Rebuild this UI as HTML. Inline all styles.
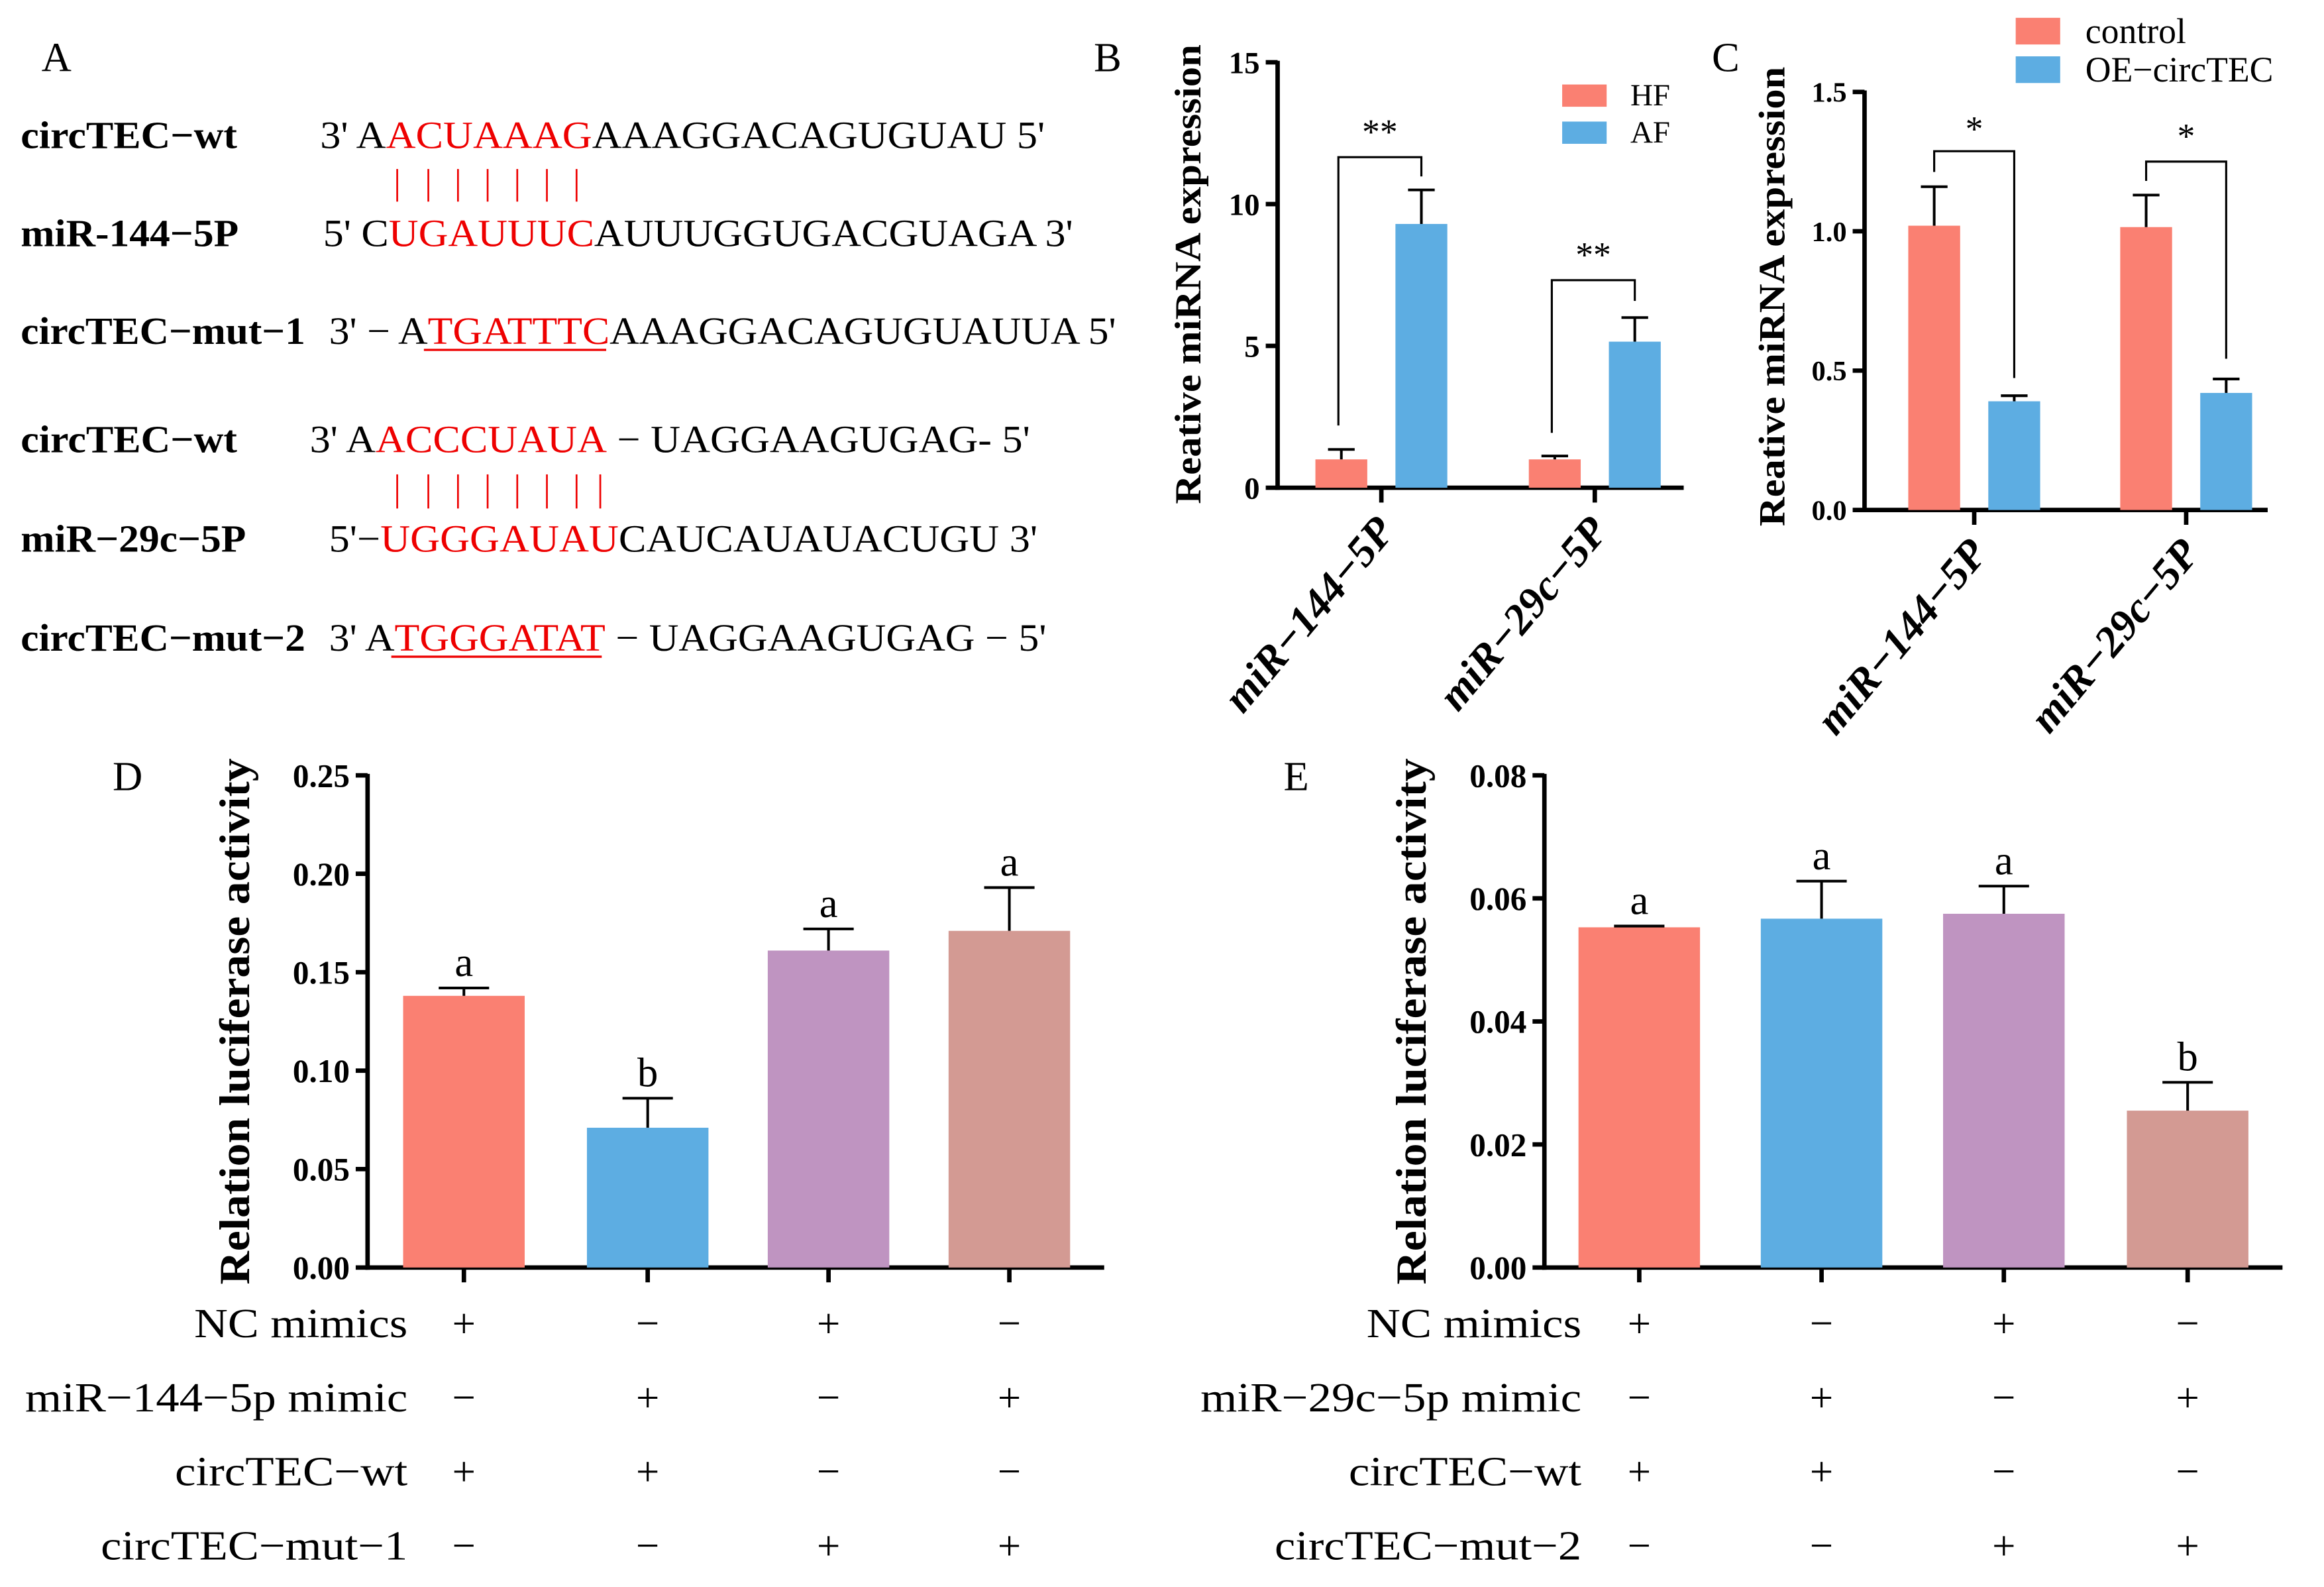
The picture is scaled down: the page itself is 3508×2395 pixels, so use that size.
<!DOCTYPE html>
<html><head><meta charset="utf-8"><style>
html,body{margin:0;padding:0;background:#fff}
svg{display:block}
text{font-family:"Liberation Serif",serif}
</style></head><body>
<svg id="fig" width="3508" height="2395" viewBox="0 0 1568 1070.5" xmlns="http://www.w3.org/2000/svg">
<rect width="1568" height="1071" fill="#fff"/>
<g id="panelA" font-size="26">
<text x="28" y="48" font-size="28">A</text>
<text x="14" y="100" font-weight="bold" textLength="146" lengthAdjust="spacingAndGlyphs">circTEC−wt</text>
<text x="216" y="100" textLength="489" lengthAdjust="spacingAndGlyphs">3' A<tspan fill="#e00">ACUAAAG</tspan>AAAGGACAGUGUAU 5'</text>
<g stroke="#e00" stroke-width="1.2">
<line x1="268" y1="114" x2="268" y2="136"/><line x1="289" y1="114" x2="289" y2="136"/><line x1="309" y1="114" x2="309" y2="136"/><line x1="329" y1="114" x2="329" y2="136"/><line x1="349" y1="114" x2="349" y2="136"/><line x1="369" y1="114" x2="369" y2="136"/><line x1="389" y1="114" x2="389" y2="136"/></g>
<text x="14" y="166" font-weight="bold" textLength="147" lengthAdjust="spacingAndGlyphs">miR-144−5P</text>
<text x="218" y="166" textLength="506" lengthAdjust="spacingAndGlyphs">5' C<tspan fill="#e00">UGAUUUC</tspan>AUUUGGUGACGUAGA 3'</text>
<text x="14" y="232" font-weight="bold" textLength="192" lengthAdjust="spacingAndGlyphs">circTEC−mut−1</text>
<text x="222" y="232" textLength="531" lengthAdjust="spacingAndGlyphs">3' − A<tspan fill="#e00">TGATTTC</tspan>AAAGGACAGUGUAUUA 5'</text>
<line x1="286" y1="236" x2="409" y2="236" stroke="#e00" stroke-width="1.5"/>
<text x="14" y="305" font-weight="bold" textLength="146" lengthAdjust="spacingAndGlyphs">circTEC−wt</text>
<text x="209" y="305" textLength="486" lengthAdjust="spacingAndGlyphs">3' A<tspan fill="#e00">ACCCUAUA</tspan> − UAGGAAGUGAG- 5'</text>
<g stroke="#e00" stroke-width="1.2">
<line x1="268" y1="320" x2="268" y2="343"/><line x1="289" y1="320" x2="289" y2="343"/><line x1="309" y1="320" x2="309" y2="343"/><line x1="329" y1="320" x2="329" y2="343"/><line x1="349" y1="320" x2="349" y2="343"/><line x1="369" y1="320" x2="369" y2="343"/><line x1="389" y1="320" x2="389" y2="343"/><line x1="405" y1="320" x2="405" y2="343"/></g>
<text x="14" y="372" font-weight="bold" textLength="152" lengthAdjust="spacingAndGlyphs">miR−29c−5P</text>
<text x="222" y="372" textLength="478" lengthAdjust="spacingAndGlyphs">5'−<tspan fill="#e00">UGGGAUAU</tspan>CAUCAUAUACUGU 3'</text>
<text x="14" y="439" font-weight="bold" textLength="192" lengthAdjust="spacingAndGlyphs">circTEC−mut−2</text>
<text x="222" y="439" textLength="484" lengthAdjust="spacingAndGlyphs">3' A<tspan fill="#e00">TGGGATAT</tspan> − UAGGAAGUGAG − 5'</text>
<line x1="264" y1="443" x2="406" y2="443" stroke="#e00" stroke-width="1.5"/>
</g>
<g id="charts"></g>
</svg>
<script>
// Panel B data
const bCategories = ["miR−144−5P", "miR−29c−5P"];
const bSeries = ["HF", "AF"];
const bHF = [1.0, 1.0];
const bHFErr = [0.35, 0.12];
const bAF = [9.3, 5.15];
const bAFErr = [1.2, 0.85];
const bTicks = [0, 5, 10, 15];
const bSig = ["**", "**"];
// Panel C data
const cCategories = ["miR−144−5P", "miR−29c−5P"];
const cSeries = ["control", "OE−circTEC"];
const cControl = [1.02, 1.015];
const cControlErr = [0.14, 0.115];
const cOE = [0.39, 0.42];
const cOEErr = [0.02, 0.05];
const cTicks = [0.0, 0.5, 1.0, 1.5];
const cSig = ["*", "*"];
// Panel D data
const dValues = [0.138, 0.071, 0.161, 0.171];
const dErr = [0.004, 0.015, 0.011, 0.022];
const dLetters = ["a", "b", "a", "a"];
const dTicks = [0.00, 0.05, 0.10, 0.15, 0.20, 0.25];
const dRowLabels = ["NC mimics", "miR−144−5p mimic", "circTEC−wt", "circTEC−mut−1"];
const dSigns = [["+","−","+","−"],["−","+","−","+"],["+","+","−","−"],["−","−","+","+"]];
// Panel E data
const eValues = [0.0553, 0.0567, 0.0575, 0.0255];
const eErr = [0.0002, 0.0061, 0.0045, 0.0046];
const eLetters = ["a", "a", "a", "b"];
const eTicks = [0.00, 0.02, 0.04, 0.06, 0.08];
const eRowLabels = ["NC mimics", "miR−29c−5p mimic", "circTEC−wt", "circTEC−mut−2"];
const eSigns = [["+","−","+","−"],["−","+","−","+"],["+","+","−","−"],["−","−","+","+"]];

const RED = "#FA8072", BLUE = "#5DADE2", PURP = "#BF94C1", ROSE = "#D39A93";
const NS = "http://www.w3.org/2000/svg";
const root = document.getElementById("charts");
function mk(tag, attrs, parent, txt) {
  const e = document.createElementNS(NS, tag);
  for (const k in attrs) e.setAttribute(k, attrs[k]);
  if (txt !== undefined) e.textContent = txt;
  (parent || root).appendChild(e);
  return e;
}
function scaleY(v, max, y0, y1) { return y0 - (v / max) * (y0 - y1); }

function axes(g, ax, y0, y1, xEnd, ticks, max, fmt, fs, tickXs) {
  const ya = mk("line", {x1: ax, y1: y1 - 1, x2: ax, y2: y0 + 1.5, stroke: "#000", "stroke-width": 3}, g);
  
  
  const xa = mk("line", {x1: ax - 1.5, y1: y0, x2: xEnd, y2: y0, stroke: "#000", "stroke-width": 3}, g);
  
  
  ticks.forEach(t => {
    const y = scaleY(t, max, y0, y1);
    mk("line", {x1: ax - 8, y1: y, x2: ax, y2: y, stroke: "#000", "stroke-width": 3}, g);
    const tl = mk("text", {x: ax - 12, y: y + fs * 0.35, "text-anchor": "end", "font-weight": "bold", "font-size": fs}, g, fmt(t));
    
    
  });
  tickXs.forEach(x => mk("line", {x1: x, y1: y0, x2: x, y2: y0 + 10, stroke: "#000", "stroke-width": 3}, g));
}
function bar(g, x, w, v, err, max, y0, y1, fill, name, cap) {
  const yt = scaleY(v, max, y0, y1);
  const r = mk("rect", {x: x - w / 2, y: yt, width: w, height: y0 - yt, fill: fill}, g);
  
  
  const ye = scaleY(v + err, max, y0, y1);
  mk("line", {x1: x, y1: yt, x2: x, y2: ye, stroke: "#000", "stroke-width": 1.8}, g);
  mk("line", {x1: x - cap, y1: ye, x2: x + cap, y2: ye, stroke: "#000", "stroke-width": 1.8}, g);
  return ye;
}
function bracket(g, xl, xr, yl, yr, top, star, sy) {
  mk("polyline", {points: `${xl},${yl} ${xl},${top} ${xr},${top} ${xr},${yr}`, fill: "none", stroke: "#000", "stroke-width": 1.4}, g);
  const s = mk("text", {x: (xl + xr) / 2, y: sy, "text-anchor": "middle", "font-size": 24}, g, star);
  
  
}
function ytitle(g, x, yc, txt, fs, len) {
  const t = mk("text", {x: 0, y: 0, transform: `translate(${x},${yc}) rotate(-90)`, "text-anchor": "middle", "font-weight": "bold", "font-size": fs, textLength: len, lengthAdjust: "spacingAndGlyphs"}, g, txt);
  
  
}
function xcat(g, x, y, txt) {
  const t = mk("text", {x: 0, y: 0, transform: `translate(${x},${y}) rotate(-50)`, "text-anchor": "end", "font-weight": "bold", "font-style": "italic", "font-size": 29}, g, txt);
  
  
}

// ---------- Panel B ----------
(function () {
  const g = mk("g", {});  
  const lb = mk("text", {x: 738, y: 48, "font-size": 28}, g, "B");
   
  const ax = 862, y0 = 329, y1 = 42, max = 15, centers = [932, 1076], off = 27, w = 35;
  axes(g, ax, y0, y1, 1136, bTicks, max, t => String(t), 21, centers);
  ytitle(g, 810, 185, "Reative miRNA expression", 25, 310);
  const lb_ = [287, 292], tp = [106, 189], rb = [119, 203], sy = [97, 180];
  bCategories.forEach((c, i) => {
    bar(g, centers[i] - off, w, bHF[i], bHFErr[i], max, y0, y1, RED, "bar-hf-" + i, 9);
    bar(g, centers[i] + off, w, bAF[i], bAFErr[i], max, y0, y1, BLUE, "bar-af-" + i, 9);
    bracket(g, centers[i] - off - 2, centers[i] + off, lb_[i], rb[i], tp[i], bSig[i], sy[i]);
    xcat(g, centers[i] + 10, y0 + 30, c);
  });
  const cols = [RED, BLUE];
  bSeries.forEach((s, i) => {
    const r = mk("rect", {x: 1054, y: 57 + i * 25, width: 30, height: 15, fill: cols[i]}, g);
     
    const t = mk("text", {x: 1100, y: 71 + i * 25, "font-size": 21}, g, s);
     
  });
})();

// ---------- Panel C ----------
(function () {
  const g = mk("g", {});  
  const lc = mk("text", {x: 1155, y: 48, "font-size": 28}, g, "C");
   
  const ax = 1258, y0 = 344, y1 = 62, max = 1.5, centers = [1332, 1475], off = 27, w = 35;
  axes(g, ax, y0, y1, 1530, cTicks, max, t => t.toFixed(1), 19, centers);
  ytitle(g, 1204, 200, "Reative miRNA expression", 25, 310);
  const lefts = [116, 122], rights = [255, 242], tops = [102, 109], sy = [95, 100];
  cCategories.forEach((c, i) => {
    bar(g, centers[i] - off, w, cControl[i], cControlErr[i], max, y0, y1, RED, "bar-control-" + i, 9);
    bar(g, centers[i] + off, w, cOE[i], cOEErr[i], max, y0, y1, BLUE, "bar-oe-" + i, 9);
    bracket(g, centers[i] - off, centers[i] + off, lefts[i], rights[i], tops[i], cSig[i], sy[i]);
    xcat(g, centers[i] + 10, y0 + 30, c);
  });
  const cols = [RED, BLUE];
  cSeries.forEach((s, i) => {
    const r = mk("rect", {x: 1360, y: 12 + i * 26, width: 30, height: 18, fill: cols[i]}, g);
     
    const t = mk("text", {x: 1407, y: 29 + i * 26, "font-size": 24}, g, s);
     
  });
})();

// ---------- Panels D & E ----------
function lucPanel(label, lx, ax, xEnd, centers, vals, errs, letters, ticks, max, dec, rowLabels, signs, labelRight, lens, name) {
  const g = mk("g", {});  
  const l = mk("text", {x: lx, y: 533, "font-size": 28}, g, label);
   
  const y0 = 855, y1 = 523, w = 82;
  axes(g, ax, y0, y1, xEnd, ticks, max, t => t.toFixed(dec), 22, centers);
  ytitle(g, ax - 80, 689, "Relation luciferase activity", 29, 355);
  const cols = [RED, BLUE, PURP, ROSE];
  vals.forEach((v, i) => {
    const ye = bar(g, centers[i], w, v, errs[i], max, y0, y1, cols[i], "bar-group-" + (i + 1), 17);
    const t = mk("text", {x: centers[i], y: ye - 8, "text-anchor": "middle", "font-size": 28}, g, letters[i]);
     
  });
  rowLabels.forEach((r, j) => {
    const y = 902 + j * 50;
    const t = mk("text", {x: labelRight, y: y, "text-anchor": "end", "font-size": 28, textLength: lens[j], lengthAdjust: "spacingAndGlyphs"}, g, r);
     
    signs[j].forEach((s, i) => {
      const st = mk("text", {x: centers[i], y: y, "text-anchor": "middle", "font-size": 28}, g, s);
       
    });
  });
}
lucPanel("D", 76, 248, 745, [313, 437, 559, 681], dValues, dErr, dLetters, dTicks, 0.25, 2, dRowLabels, dSigns, 275, [144, 258, 157, 207], "panel-d-chart");
lucPanel("E", 866, 1042, 1540, [1106, 1229, 1352, 1476], eValues, eErr, eLetters, eTicks, 0.08, 2, eRowLabels, eSigns, 1067, [145, 257, 157, 207], "panel-e-chart");
</script>
</body></html>
